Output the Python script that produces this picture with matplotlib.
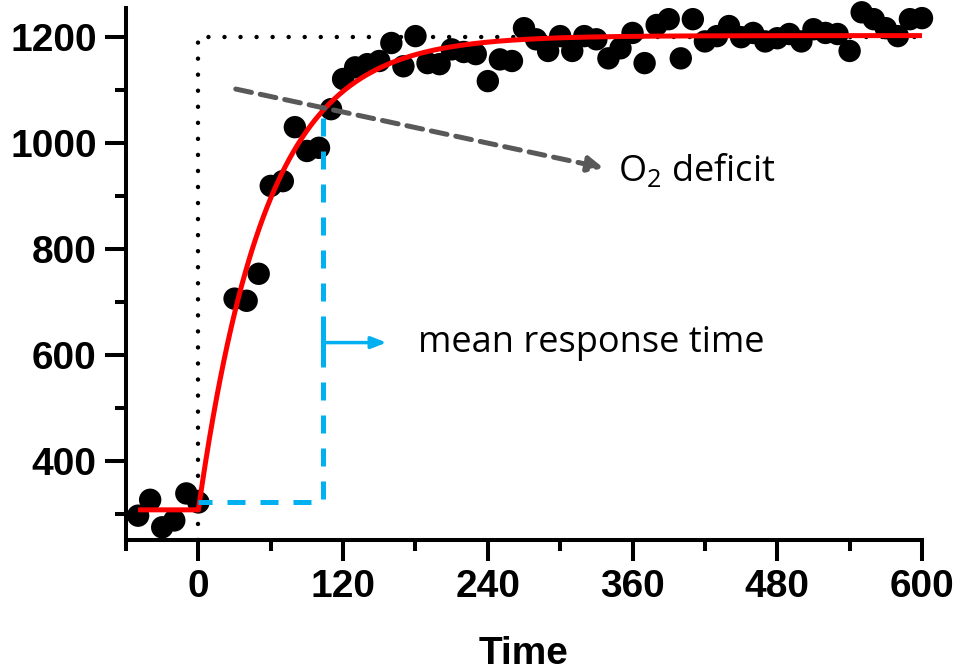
import numpy as np
import matplotlib
matplotlib.use("Agg")
import matplotlib.pyplot as plt
from matplotlib.ticker import MultipleLocator

plt.rcParams['mathtext.fontset'] = 'custom'
plt.rcParams['mathtext.rm'] = 'Open Sans'

# VO2 samples (time in s, VO2)
time = [-50, -40, -30, -20, -10, 0,
        30, 40, 50, 60, 70, 80, 90, 100, 110, 120, 130, 140, 150, 160,
        170, 180, 190, 200, 210, 220, 230, 240, 250, 260, 270, 280, 290,
        300, 310, 320, 330, 340, 350, 360, 370, 380, 390, 400, 410, 420,
        430, 440, 450, 460, 470, 480, 490, 500, 510, 520, 530, 540, 550,
        560, 570, 580, 590, 600]
vo2 = [296, 326, 274, 287, 338, 321,
       706, 702, 753, 919, 928, 1030, 985, 991, 1064, 1121, 1143, 1149, 1155, 1189,
       1145, 1202, 1151, 1149, 1177, 1172, 1168, 1117, 1158, 1155, 1217, 1196, 1174,
       1202, 1174, 1202, 1196, 1160, 1179, 1208, 1151, 1223, 1234, 1160, 1234, 1192,
       1202, 1221, 1200, 1208, 1192, 1198, 1206, 1192, 1215, 1208, 1206, 1174, 1247,
       1234, 1217, 1202, 1234, 1236]

# mono-exponential fit parameters
baseline = 307
amplitude = 896
tau = 56
steady_state = 1200
mrt = 103
mrt_base = 321
mrt_top = 1047

x_ticks = [0, 120, 240, 360, 480, 600]
y_ticks = [400, 600, 800, 1000, 1200]

fig = plt.figure(figsize=(9.57, 6.72), dpi=100)
ax = fig.add_axes([0.1317, 0.1964, 0.8317, 0.7916])

# square-wave work rate reference
ax.plot([0, 0, 600], [250, steady_state, steady_state], color='black', lw=3.2,
        linestyle=(0, (0.01, 3.6)), dash_capstyle='round', zorder=1)

ax.scatter(time, vo2, s=260, color='black', edgecolors='none', zorder=2,
           clip_on=False)

t_pre = np.array([-50, 0])
t_ex = np.linspace(0, 600, 400)
fit_pre = np.full_like(t_pre, baseline, dtype=float)
fit_ex = baseline + amplitude * (1 - np.exp(-t_ex / tau))
ax.plot(np.r_[t_pre, t_ex], np.r_[fit_pre, fit_ex], color='#ff0000', lw=3.6,
        solid_capstyle='butt', zorder=3)

blue = '#00b0f0'
ax.plot([mrt, mrt, 0], [mrt_top, mrt_base, mrt_base], color=blue, lw=3.6,
        linestyle=(0, (3.6, 3.0)), zorder=4)
ax.plot([mrt, mrt], [605, 641], color=blue, lw=3.6, zorder=4)
ax.annotate('', xy=(156, 623), xytext=(mrt, 623),
            arrowprops=dict(arrowstyle='-|>,head_width=0.35,head_length=0.9',
                            color=blue, lw=2.5, shrinkA=0, shrinkB=0), zorder=4)
ax.text(182, 623, 'mean response time', fontsize=26, family='Open Sans',
        va='center', ha='left')

ax.annotate('', xy=(336, 953), xytext=(31, 1102),
            arrowprops=dict(arrowstyle='-|>,head_width=0.45,head_length=0.9',
                            color='#595959', lw=3.6, linestyle=(0, (3.2, 1.8)),
                            shrinkA=0, shrinkB=0), zorder=4)
ax.text(348, 947, r'O$_{\mathrm{2}}$ deficit', fontsize=26, family='Open Sans',
        va='center', ha='left')

ax.set_xlim(-60, 600)
ax.set_ylim(250, 1255)
ax.set_xticks(x_ticks)
ax.set_yticks(y_ticks)
ax.xaxis.set_minor_locator(MultipleLocator(60))
ax.yaxis.set_minor_locator(plt.FixedLocator([300, 500, 700, 900, 1100]))

for side in ['top', 'right']:
    ax.spines[side].set_visible(False)
for side in ['left', 'bottom']:
    ax.spines[side].set_linewidth(2.9)

ax.tick_params(which='major', length=15, width=2.9, pad=6)
ax.tick_params(which='minor', length=8, width=2.9)
for lab in ax.get_xticklabels() + ax.get_yticklabels():
    lab.set_fontfamily('Liberation Sans')
    lab.set_fontweight('bold')
    lab.set_fontsize(28)

ax.set_xlabel('Time', fontsize=28, fontweight='bold', family='Liberation Sans',
              labelpad=22)

fig.savefig('out.png', dpi=100)
